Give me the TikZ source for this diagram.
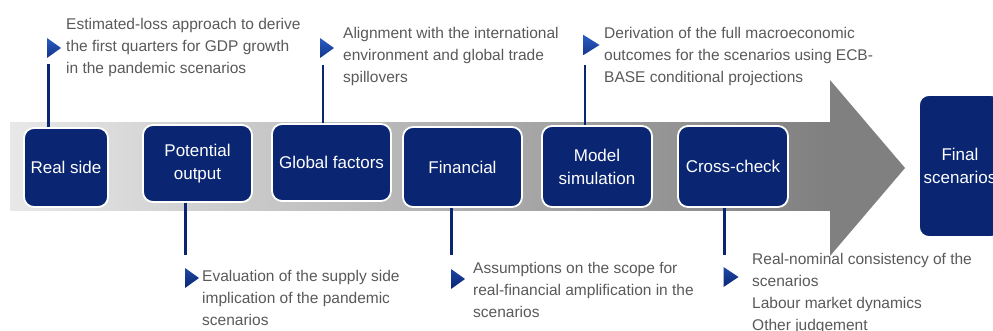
\documentclass[tikz,border=0pt]{standalone}
\usepackage{fontspec}
\setmainfont{Liberation Sans}
\usetikzlibrary{positioning}
\definecolor{ecbnavy}{HTML}{0A2672}
\definecolor{ecbblue}{HTML}{2B5CC4}
\definecolor{notegray}{HTML}{595959}
\tikzset{stage/.style={draw=white, line width=1.8pt, fill=ecbnavy, rounded corners=10pt, text=white, align=center, inner sep=0pt, font=\fontsize{17}{23}\selectfont},
	note/.style={anchor=north west, align=left, inner sep=0pt, text=notegray, font=\fontsize{15.5}{22}\selectfont},
	stem/.style={draw=ecbnavy, line width=2.2pt},
	%small blue pointer in front of each note
	marker/.style={top color=ecbblue, bottom color=ecbnavy}}

\begin{document}
\begin{tikzpicture}[x=1pt, y=-1pt]
		\useasboundingbox (0,0) rectangle (993,331);
		\clip (0,0) rectangle (993,331);
		% big process arrow
		\shade[left color=black!9, right color=black!50] (10,123) rectangle (831,211);
		\fill[black!50] (830,80) -- (905,168) -- (830,256) -- cycle;

		\node[stage, minimum width=84, minimum height=79] (real) at (66,167.5) {Real side};
		\node[stage, minimum width=109, minimum height=77] (potential) at (197.5,163.5) {Potential\\output};
		\node[stage, minimum width=119, minimum height=77] (global) at (331.5,162.5) {Global factors};
		\node[stage, minimum width=119, minimum height=80] (financial) at (462.5,167) {Financial};
		\node[stage, minimum width=110, minimum height=81] (model) at (597,166.5) {Model\\simulation};
		\node[stage, minimum width=110, minimum height=81] (cross) at (733,166.5) {Cross-check};
		\node[stage, minimum width=82, minimum height=142] (final) at (960,166) {Final\\scenarios};

		\coordinate (realend) at (48.5,64);
		\coordinate (globalend) at (323,65);
		\coordinate (modelend) at (585,65);
		\coordinate (potentialend) at (185.5,255);
		\coordinate (financialend) at (451.5,255);
		\coordinate (crossend) at (724.5,255);

		\draw[stem] (real.north -| realend) -- (realend);
		\draw[stem] (global.north -| globalend) -- (globalend);
		\draw[stem] (model.north -| modelend) -- (modelend);
		\draw[stem] (potential.south -| potentialend) -- (potentialend);
		\draw[stem] (financial.south -| financialend) -- (financialend);
		\draw[stem] (cross.south -| crossend) -- (crossend);

		\shade[marker] (realend) ++(-1.5,-26) -- ++(14,10) -- ++(-14,10) -- cycle;
		\shade[marker] (globalend) ++(-3,-27) -- ++(14,10) -- ++(-14,10) -- cycle;
		\shade[marker] (modelend) ++(-1.5,-30) -- ++(16,10) -- ++(-16,10) -- cycle;
		\shade[marker] (potentialend) ++(-0.5,13) -- ++(14,10) -- ++(-14,10) -- cycle;
		\shade[marker] (financialend) ++(-0.5,14) -- ++(14,10) -- ++(-14,10) -- cycle;
		\shade[marker] (crossend) ++(-1,12) -- ++(15,10) -- ++(-15,10) -- cycle;

		\node[note] (realnote) at (66,18) {Estimated-loss approach to derive\\the first quarters for GDP growth\\in the pandemic scenarios};
		\node[note] (globalnote) at (343,27) {Alignment with the international\\environment and global trade\\spillovers};
		\node[note] (modelnote) at (604,27) {Derivation of the full macroeconomic\\outcomes for the scenarios using ECB-\\BASE conditional projections};
		\node[note] (potentialnote) at (202,270) {Evaluation of the supply side\\implication of the pandemic\\scenarios};
		\node[note] (financialnote) at (473,262) {Assumptions on the scope for\\real-financial amplification in the\\scenarios};
		\node[note] (crossnote) at (752,253) {Real-nominal consistency of the\\scenarios\\Labour market dynamics\\Other judgement};
	\end{tikzpicture}
\end{document}
